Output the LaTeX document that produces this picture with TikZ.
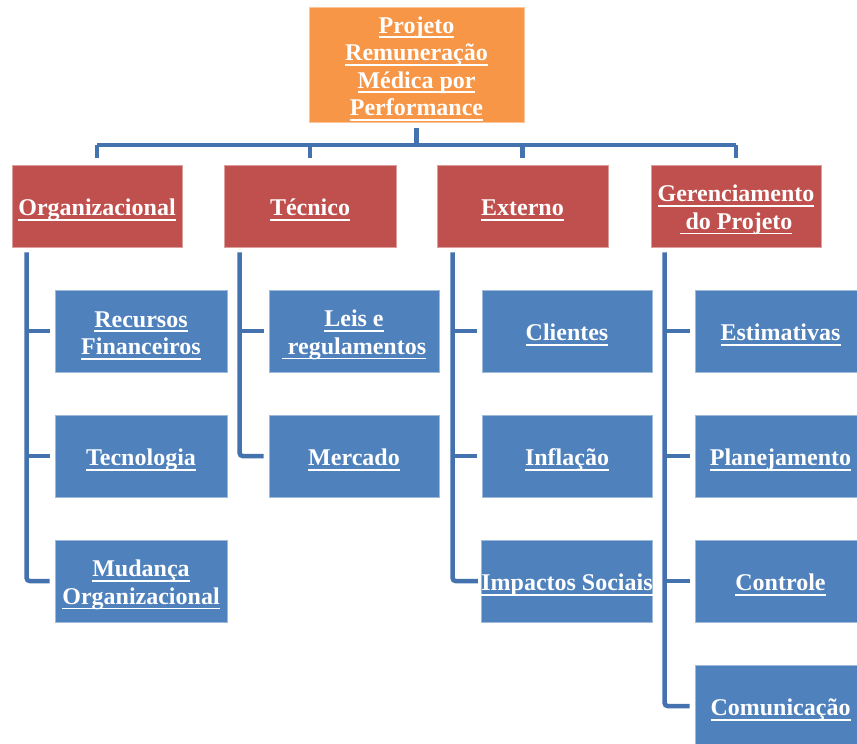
\documentclass[tikz,border=0pt]{standalone}
\usepackage{fontspec}
\setmainfont{Liberation Serif}
\definecolor{topC}{HTML}{F79646}
\definecolor{midC}{HTML}{C0504D}
\definecolor{lowC}{HTML}{4F81BD}
\definecolor{lineC}{HTML}{4472AE}
\newsavebox{\myulbox}
\newcommand{\myul}[1]{\sbox{\myulbox}{#1}\rlap{\rule[-5pt]{\wd\myulbox}{1.6pt}}\usebox{\myulbox}}
\newcommand{\fs}{\rule{0pt}{24.5pt}}
\begin{document}
\begin{tikzpicture}[x=1pt,y=-1pt,
  box/.style={rectangle, fill=#1, draw=#1!55!white, line width=0.8pt, text=white,
    font=\bfseries\fontsize{24}{27.5}\selectfont, align=center, inner sep=0pt,
    minimum height=82pt},
  conn/.style={draw=lineC, line width=4.5pt}]
\useasboundingbox (0,0) rectangle (857,744);
\clip (0,0) rectangle (857,744);
% top
\node[box=topC, minimum width=215pt, minimum height=115pt] (top) at (416.5,64.5)
  {\fs\myul{Projeto}\\\myul{Remuneração}\\\myul{Médica por}\\\myul{Performance}};
% level 2
\node[box=midC, minimum width=170pt] (org) at (97,206) {\fs\myul{Organizacional}};
\node[box=midC, minimum width=172pt] (tec) at (310,206) {\fs\myul{Técnico}};
\node[box=midC, minimum width=171pt] (ext) at (522.5,206) {\fs\myul{Externo}};
\node[box=midC, minimum width=170pt] (ger) at (736,206) {\fs\myul{Gerenciamento}\\\myul{\ do Projeto}};
% level 3
\node[box=lowC, minimum width=172pt] (o1) at (141,331) {\fs\myul{Recursos}\\\myul{Financeiros}};
\node[box=lowC, minimum width=172pt] (o2) at (141,456) {\fs\myul{Tecnologia}};
\node[box=lowC, minimum width=172pt] (o3) at (141,581) {\fs\myul{Mudança}\\\myul{Organizacional}};
\node[box=lowC, minimum width=170pt] (t1) at (354,331) {\fs\myul{Leis e}\\\myul{\ regulamentos}};
\node[box=lowC, minimum width=170pt] (t2) at (354,456) {\fs\myul{Mercado}};
\node[box=lowC, minimum width=170pt] (e1) at (567,331) {\fs\myul{Clientes}};
\node[box=lowC, minimum width=170pt] (e2) at (567,456) {\fs\myul{Inflação}};
\node[box=lowC, minimum width=170pt] (e3) at (567,581) {\fs\myul{Impactos Sociais}};
\node[box=lowC, minimum width=171pt] (g1) at (780.5,331) {\fs\myul{Estimativas}};
\node[box=lowC, minimum width=171pt] (g2) at (780.5,456) {\fs\myul{Planejamento}};
\node[box=lowC, minimum width=171pt] (g3) at (780.5,581) {\fs\myul{Controle}};
\node[box=lowC, minimum width=171pt] (g4) at (780.5,706) {\fs\myul{Comunicação}};
% bus
\coordinate (bus) at (0,145);
\draw[conn] ([yshift=-6pt]top.south) -- (top.south |- bus);
\draw[conn] (org.north |- bus) -- (ger.north |- bus);
\foreach \n in {org,tec,ext,ger}
  \draw[conn] (\n.north |- bus) -- ([yshift=7pt]\n.north);
% vertical branches
\coordinate (orgv) at ([xshift=15pt,yshift=-5pt]org.south west);
\coordinate (tecv) at ([xshift=16pt,yshift=-5pt]tec.south west);
\coordinate (extv) at ([xshift=16pt,yshift=-5pt]ext.south west);
\coordinate (gerv) at ([xshift=14pt,yshift=-5pt]ger.south west);
\draw[conn, rounded corners=3pt] (orgv) |- ([xshift=-5pt]o3.west);
\foreach \c in {o1,o2} \draw[conn] (orgv |- \c.west) -- ([xshift=-5pt]\c.west);
\draw[conn, rounded corners=3pt] (tecv) |- ([xshift=-5pt]t2.west);
\draw[conn] (tecv |- t1.west) -- ([xshift=-5pt]t1.west);
\draw[conn, rounded corners=3pt] (extv) |- ([xshift=-3pt]e3.west);
\foreach \c in {e1,e2} \draw[conn] (extv |- \c.west) -- ([xshift=-5pt]\c.west);
\draw[conn, rounded corners=3pt] (gerv) |- ([xshift=-5pt]g4.west);
\foreach \c in {g1,g2,g3} \draw[conn] (gerv |- \c.west) -- ([xshift=-5pt]\c.west);
\end{tikzpicture}
\end{document}
